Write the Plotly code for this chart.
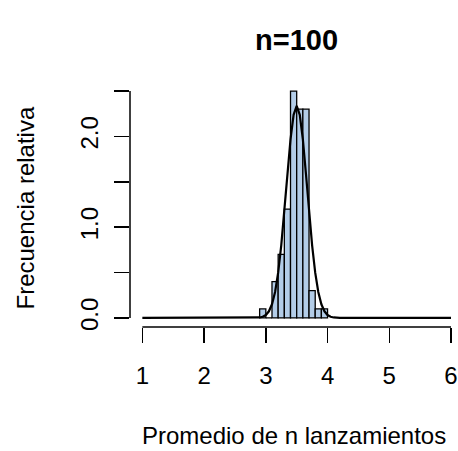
import plotly.graph_objects as go

# ---- data ----
bin_edges = [2.9, 3.0, 3.1, 3.2, 3.3, 3.4, 3.5, 3.6, 3.7, 3.8, 3.9, 4.0]
bar_density = [0.1, 0.0, 0.4, 0.7, 1.2, 2.5, 2.3, 2.3, 0.3, 0.1, 0.1]

curve_x = [1.0, 2.8, 2.85, 2.9, 2.95, 3.0, 3.05, 3.1, 3.15, 3.2, 3.25, 3.3, 3.35,
           3.4, 3.45, 3.5, 3.55, 3.6, 3.65, 3.7, 3.75, 3.8, 3.85, 3.9, 3.95,
           4.0, 4.05, 4.1, 4.15, 4.2, 6.0]
curve_y = [0.0, 0.0005, 0.002, 0.005, 0.013, 0.032, 0.073, 0.150, 0.286, 0.499,
           0.800, 1.177, 1.588, 1.968, 2.238, 2.336, 2.238, 1.968, 1.588, 1.177,
           0.800, 0.499, 0.286, 0.150, 0.073, 0.032, 0.013, 0.005, 0.002, 0.0005, 0.0]

x_ticks = [1, 2, 3, 4, 5, 6]
y_ticks = [0.0, 0.5, 1.0, 1.5, 2.0, 2.5]
y_ticklabels = ["0.0", "", "1.0", "", "2.0", ""]

title_text = "n=100"
x_title = "Promedio de n lanzamientos"
y_title = "Frecuencia relativa"

# ---- figure ----
W, H = 458, 451
L, T, R = 129.9, 82.2, 0.0
B = H - 327.1
pw, ph = W - L - R, H - T - B

def px_x(p):  # window pixel -> paper coordinate
    return (p - L) / pw

def px_y(p):
    return (H - B - p) / ph

centers = [(a + b) / 2 for a, b in zip(bin_edges[:-1], bin_edges[1:])]
widths = [b - a for a, b in zip(bin_edges[:-1], bin_edges[1:])]

FONT = "Liberation Sans, Arial, sans-serif"

fig = go.Figure()
fig.add_trace(go.Bar(
    x=centers, y=bar_density, width=widths,
    marker=dict(color="#B3CDE8", line=dict(color="black", width=1.3)),
    showlegend=False, hoverinfo="skip"))
fig.add_trace(go.Scatter(
    x=curve_x, y=curve_y, mode="lines",
    line=dict(color="black", width=2.2),
    showlegend=False, hoverinfo="skip"))

# axis lines spanning only the tick range (R style)
fig.add_shape(type="line", xref="x", yref="paper",
              x0=x_ticks[0], x1=x_ticks[-1], y0=0, y1=0,
              line=dict(color="black", width=1.5))
fig.add_shape(type="line", xref="paper", yref="y",
              x0=0, x1=0, y0=y_ticks[0], y1=y_ticks[-1],
              line=dict(color="black", width=1.5))

fig.add_annotation(text="<b>" + title_text + "</b>", xref="paper", yref="paper",
                   x=px_x(296.6), y=px_y(40), showarrow=False,
                   xanchor="center", yanchor="middle",
                   font=dict(family=FONT, size=29, color="black"))
fig.add_annotation(text=x_title, xref="paper", yref="paper",
                   x=px_x(294), y=px_y(436), showarrow=False,
                   xanchor="center", yanchor="middle",
                   font=dict(family=FONT, size=24, color="black"))
fig.add_annotation(text=y_title, xref="paper", yref="paper",
                   x=px_x(25), y=px_y(208.5), showarrow=False, textangle=-90,
                   xanchor="center", yanchor="middle",
                   font=dict(family=FONT, size=24, color="black"))

fig.update_layout(
    width=W, height=H,
    margin=dict(l=L, r=R, t=T, b=B, pad=0),
    paper_bgcolor="white", plot_bgcolor="white",
    bargap=0,
    xaxis=dict(range=[0.8, 6.113], tickvals=x_ticks,
               ticktext=[str(v) for v in x_ticks],
               showgrid=False, zeroline=False, showline=False,
               ticks="outside", ticklen=15, tickwidth=1.5, tickcolor="black",
               ticklabelstandoff=12,
               tickfont=dict(family=FONT, size=24, color="black")),
    yaxis=dict(range=[-0.1, 2.6], tickvals=y_ticks, ticktext=y_ticklabels,
               showgrid=False, zeroline=False, showline=False,
               ticks="outside", ticklen=15, tickwidth=1.5, tickcolor="black",
               tickangle=-90, ticklabelstandoff=6,
               tickfont=dict(family=FONT, size=24, color="black")),
)

fig.write_html("out.html",
               config={"displayModeBar": False, "staticPlot": True},
               post_script="document.body.style.margin='0px';"
                           "document.body.style.overflow='hidden';")
